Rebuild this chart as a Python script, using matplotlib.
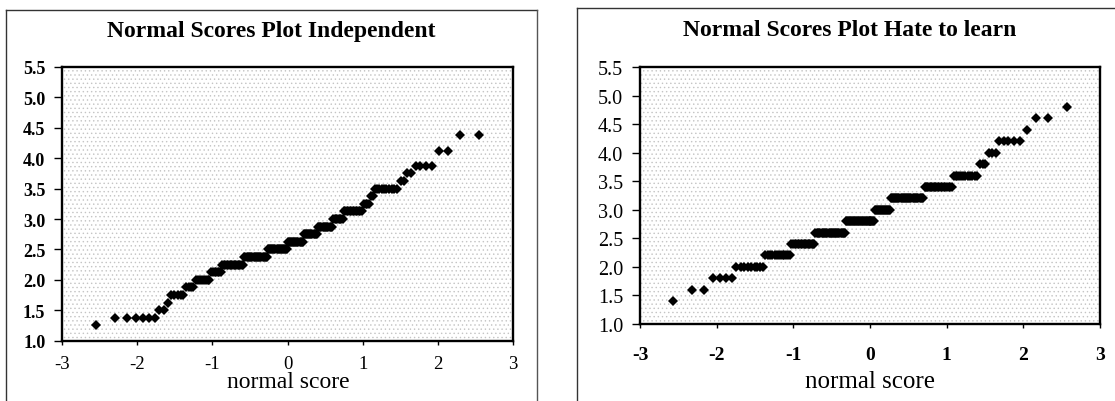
import matplotlib
matplotlib.use('Agg')
import matplotlib.pyplot as plt
from matplotlib.lines import Line2D
from matplotlib.patches import Rectangle
from statistics import NormalDist

# scores seen in each sample, with how many people gave that score
indep_levels = [1.25, 1.375, 1.5, 1.625, 1.75, 1.875, 2.0, 2.125, 2.25, 2.375, 2.5, 2.625,
                2.75, 2.875, 3.0, 3.125, 3.25, 3.375, 3.5, 3.625, 3.75, 3.875, 4.125, 4.375]
indep_counts = [1, 6, 2, 1, 5, 4, 8, 7, 16, 21, 19, 15, 13, 13, 8, 13, 4, 2, 10, 2, 2, 4, 2, 2]

hate_levels = [1.4, 1.6, 1.8, 2.0, 2.2, 2.4, 2.6, 2.8, 3.0, 3.2, 3.4, 3.6, 3.8, 4.0, 4.2, 4.4, 4.6, 4.8]
hate_counts = [1, 2, 4, 9, 13, 17, 27, 30, 16, 30, 20, 12, 3, 3, 5, 1, 2, 1]

x_ticks = [-3, -2, -1, 0, 1, 2, 3]
y_ticks = [1.0, 1.5, 2.0, 2.5, 3.0, 3.5, 4.0, 4.5, 5.0, 5.5]

titles = ['Normal Scores Plot Independent', 'Normal Scores Plot Hate to learn']
x_label = 'normal score'


def normal_scores(levels, counts):
    # sorted observations against their normal scores, rank i -> inv_cdf(i/(n+1))
    values = []
    for v, c in zip(levels, counts):
        values += [v] * c
    n = len(values)
    nd = NormalDist()
    scores = [nd.inv_cdf(i / (n + 1)) for i in range(1, n + 1)]
    return scores, values


serif = ['Liberation Serif', 'DejaVu Serif']
plt.rcParams['font.family'] = serif
plt.rcParams['hatch.linewidth'] = 0.5

fig = plt.figure(figsize=(11.15, 4.02), dpi=100)
fig.patch.set_facecolor('white')

# outer frames of the two scanned charts
fig.add_artist(Line2D([6 / 1115, 6 / 1115], [0, 1 - 11 / 402], color='#333333', lw=1))
fig.add_artist(Line2D([6 / 1115, 537 / 1115], [1 - 11 / 402, 1 - 11 / 402], color='#333333', lw=1))
fig.add_artist(Line2D([537 / 1115, 537 / 1115], [0, 1 - 11 / 402], color='#555555', lw=1))
fig.add_artist(Line2D([577 / 1115, 577 / 1115], [0, 1 - 9 / 402], color='#333333', lw=1))
fig.add_artist(Line2D([577 / 1115, 1], [1 - 9 / 402, 1 - 9 / 402], color='#333333', lw=1))

ax1 = fig.add_axes([62 / 1115, 1 - 341.7 / 402, 451 / 1115, 273.7 / 402])
ax2 = fig.add_axes([640 / 1115, 1 - 325 / 402, 460 / 1115, 257 / 402])

panels = [(ax1, indep_levels, indep_counts, 'normal', 'bold', 13.5, 13, 7, 6),
          (ax2, hate_levels, hate_counts, 'bold', 'normal', 14, 14.5, 13, 6)]

for ax, levels, counts, xw, yw, xfs, yfs, xpad, ypad in panels:
    xs, ys = normal_scores(levels, counts)
    ax.add_patch(Rectangle((0, 0), 1, 1, transform=ax.transAxes, facecolor='white',
                           hatch='....', edgecolor='#c4c4c4', lw=0, zorder=0))
    ax.plot(xs, ys, linestyle='none', marker='D', markersize=5.3, color='black',
            markeredgewidth=0, zorder=3)
    ax.set_xlim(-3, 3)
    ax.set_ylim(1.0, 5.5)
    ax.set_xticks(x_ticks)
    ax.set_xticklabels([str(t) for t in x_ticks], fontsize=xfs, fontweight=xw)
    ax.set_yticks(y_ticks)
    ax.set_yticklabels(['%.1f' % t for t in y_ticks], fontsize=yfs, fontweight=yw)
    ax.tick_params(axis='x', direction='out', length=3, width=1, pad=xpad)
    ax.tick_params(axis='y', direction='out', length=6, width=1, pad=ypad)
    for s in ax.spines.values():
        s.set_linewidth(1.7)
        s.set_color('black')

fig.text(271 / 1115, 1 - 32 / 402, titles[0], ha='center', va='center',
         fontsize=17, fontweight='bold')
fig.text(850 / 1115, 1 - 31 / 402, titles[1], ha='center', va='center',
         fontsize=17, fontweight='bold')
fig.text(288 / 1115, 1 - 383 / 402, x_label, ha='center', va='center', fontsize=17)
fig.text(870 / 1115, 1 - 382 / 402, x_label, ha='center', va='center', fontsize=18)

fig.savefig('out.png', dpi=100)
